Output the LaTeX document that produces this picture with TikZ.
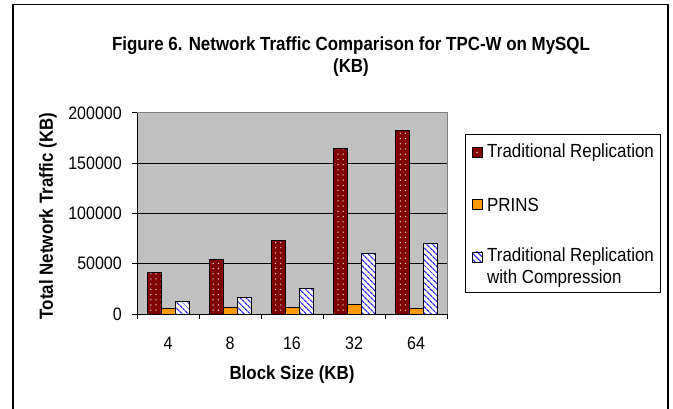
\documentclass[tikz,border=0pt]{standalone}
\usepackage{fontspec}
\setmainfont{Liberation Sans}[FakeStretch=0.89]
\usetikzlibrary{patterns.meta}
\definecolor{barred}{RGB}{128,0,0}
\definecolor{barorange}{RGB}{255,153,0}
\definecolor{barblue}{RGB}{40,40,255}
\definecolor{plotgray}{RGB}{192,192,192}
\definecolor{bordergray}{RGB}{128,128,128}
\tikzset{
  redbar/.style={preaction={fill=barred}, pattern={Dots[radius=0.75pt,distance=5.2pt]}, pattern color=white!80!barred, draw=black, line width=0.9pt},
  orangebar/.style={fill=barorange, draw=black, line width=0.9pt},
  bluebar/.style={preaction={fill=white}, pattern={Lines[angle=-45,distance=4pt,line width=1.3pt]}, pattern color=barblue, draw=black, line width=0.9pt},
  ticklabel/.style={font=\fontsize{18}{21}\selectfont, inner sep=0pt},
  legendtext/.style={font=\fontsize{19}{22}\selectfont, inner sep=0pt, anchor=west, align=left},
  boldtitle/.style={font=\fontsize{19}{22}\selectfont\bfseries, inner sep=0pt},
  gridline/.style={draw=black, line width=1pt},
  axisline/.style={draw=black, line width=1pt}
}
\begin{document}
\begin{tikzpicture}[x=1pt,y=-1pt]
\useasboundingbox (0,0) rectangle (673,409);
% outer frame
\draw[line width=1.6pt] (13,409) -- (13,4.5) -- (668,4.5) -- (668,409);
% title
\node[boldtitle] (title1) at (351,46) {Figure 6. Network Traffic Comparison for TPC-W on MySQL};
\node[boldtitle] (title2) at (351,68) {(KB)};
% plot area
\fill[plotgray] (137,113) rectangle (447,314);
\draw[bordergray, line width=1pt] (137,113) -- (447,113) -- (447,314);
\foreach \v in {50,100,150} {
  \draw[gridline] (137,{314-1.005*\v}) -- (447,{314-1.005*\v});
}
% bars
\foreach \i/\r/\o/\b in {0/41/5.3/12.6, 1/54.6/6.6/16.6, 2/73/6.6/25.2, 3/164.5/9.6/60.4, 4/182.5/5.3/70} {
  \path[redbar] ({137+62*\i+10},314) rectangle ({137+62*\i+24},{314-1.005*\r});
  \path[orangebar] ({137+62*\i+24},314) rectangle ({137+62*\i+38},{314-1.005*\o});
  \path[bluebar] ({137+62*\i+38},314) rectangle ({137+62*\i+52},{314-1.005*\b});
}
% axes
\draw[axisline] (137,113) -- (137,314) -- (447,314);
\foreach \v/\t in {0/0,50/50000,100/100000,150/150000,200/200000} {
  \draw[axisline] (132,{314-1.005*\v}) -- (137,{314-1.005*\v});
  \node[ticklabel, anchor=east] (y\v) at (122,{314-1.005*\v}) {\t};
}
\foreach \i in {0,...,5} {
  \draw[axisline] ({137+62*\i},314) -- ({137+62*\i},319);
}
\foreach \i/\t in {0/4,1/8,2/16,3/32,4/64} {
  \node[ticklabel] (x\i) at ({137+62*\i+31},343) {\t};
}
% axis titles
\node[boldtitle] (xtitle) at (292,375) {Block Size (KB)};
\node[boldtitle, rotate=90] (ytitle) at (48,216) {Total Network Traffic (KB)};
% legend
\draw[black, line width=1pt] (465,135) rectangle (660,293);
\path[fill=barred, draw=black, line width=0.8pt] (472,147.5) rectangle (482,157.5);
\fill[white!80!barred] (477,152.5) circle (0.9);
\node[legendtext] (leg1) at (487,152.5) {Traditional Replication};
\path[orangebar, line width=0.8pt] (472,199.5) rectangle (482,209.5);
\node[legendtext] (leg2) at (487,204.5) {PRINS};
\path[bluebar, line width=0.8pt] (472,252) rectangle (482,262);
\node[legendtext] (leg3) at (487,257) {Traditional Replication};
\node[legendtext] (leg4) at (487,279) {with Compression};
\end{tikzpicture}
\end{document}
